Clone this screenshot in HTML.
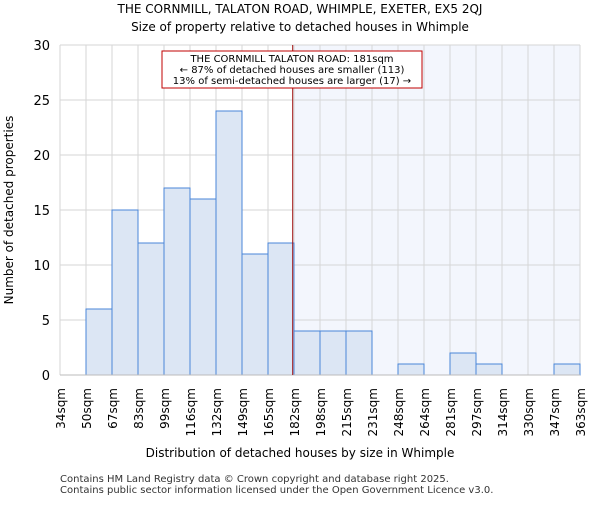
<!DOCTYPE html>
<html><head><meta charset="utf-8"><style>body{margin:0;background:#fff}svg{font-family:"DejaVu Sans","Liberation Sans",sans-serif}</style></head>
<body>
<svg id="c" width="600" height="500" xmlns="http://www.w3.org/2000/svg">
<text x="300" y="13" text-anchor="middle" font-size="12">THE CORNMILL, TALATON ROAD, WHIMPLE, EXETER, EX5 2QJ</text>
<text x="300" y="31" text-anchor="middle" font-size="12">Size of property relative to detached houses in Whimple</text>
<g id="plot"></g>
<text x="300" y="457" text-anchor="middle" font-size="12">Distribution of detached houses by size in Whimple</text>
<text transform="translate(13,210) rotate(-90)" text-anchor="middle" font-size="12">Number of detached properties</text>
<text x="60" y="482" font-size="10" fill="#333">Contains HM Land Registry data © Crown copyright and database right 2025.</text>
<text x="60" y="493" font-size="10" fill="#333">Contains public sector information licensed under the Open Government Licence v3.0.</text>
</svg>
<script>
const binLabels=["34sqm","50sqm","67sqm","83sqm","99sqm","116sqm","132sqm","149sqm","165sqm","182sqm","198sqm","215sqm","231sqm","248sqm","264sqm","281sqm","297sqm","314sqm","330sqm","347sqm","363sqm"];
const counts=[0,6,15,12,17,16,24,11,12,4,4,4,0,1,0,2,1,0,0,1];
const yTicks=[0,5,10,15,20,25,30];
const propertyBinPos=[8.95];
const NS="http://www.w3.org/2000/svg";
const L=60,R=580,T=45,B=375,yMax=30;
const n=counts.length;
const xs=i=>L+(R-L)*i/n;
const ys=v=>B-(B-T)*v/yMax;
const g=document.getElementById('plot');
function mk(t,a){const e=document.createElementNS(NS,t);for(const k in a)e.setAttribute(k,a[k]);g.appendChild(e);return e;}
const px=xs(propertyBinPos[0]);
let e=mk('rect',{x:px,y:T,width:R-px,height:B-T,fill:'#f3f6fd'});


for(let i=0;i<=n;i++){e=mk('line',{x1:xs(i),x2:xs(i),y1:T,y2:B,stroke:'#d6d6d6'});

}
yTicks.forEach(v=>{e=mk('line',{x1:L,x2:R,y1:ys(v),y2:ys(v),stroke:'#d6d6d6'});


e=mk('text',{x:L-10,y:ys(v)+5,'text-anchor':'end','font-size':13});e.textContent=v;

});
counts.forEach((c,i)=>{if(c<=0)return;e=mk('rect',{x:xs(i),y:ys(c),width:xs(i+1)-xs(i),height:B-ys(c),fill:'#dce6f4',stroke:'#4a86d8','stroke-width':1});

});
binLabels.forEach((l,i)=>{e=mk('text',{transform:`translate(${xs(i)+5},388) rotate(-90)`,'text-anchor':'end','font-size':12});e.textContent=l;

});
e=mk('line',{x1:L,x2:R,y1:B,y2:B,stroke:'#bbb'});


e=mk('line',{x1:px,x2:px,y1:T,y2:B,stroke:'#a01010','stroke-width':1});


e=mk('rect',{x:162,y:51,width:260,height:37,fill:'#fff',stroke:'#c00000'});


["THE CORNMILL TALATON ROAD: 181sqm","← 87% of detached houses are smaller (113)","13% of semi-detached houses are larger (17) →"].forEach((t,i)=>{e=mk('text',{x:292,y:62+i*11,'text-anchor':'middle','font-size':10});e.textContent=t;

});
</script>
</body></html>
